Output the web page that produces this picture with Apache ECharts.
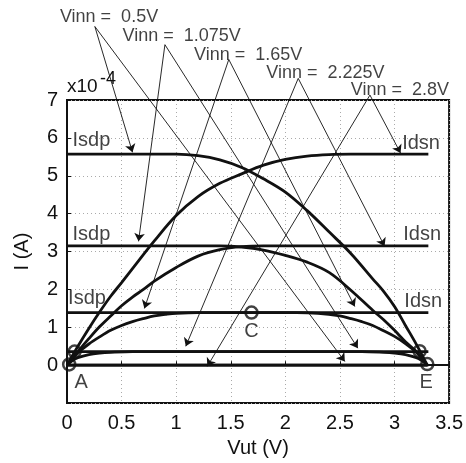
<!DOCTYPE html>
<html>
<head>
<meta charset="utf-8">
<script src="https://cdn.jsdelivr.net/npm/echarts@6/dist/echarts.min.js"></script>
<style>
  html, body { margin: 0; padding: 0; background: #fff; }
  #chart { width: 466px; height: 463px; }
</style>
</head>
<body>
<div id="chart"></div>
<script>
// Gate voltages of the two transistors
const vinnLabels = ['Vinn =  0.5V', 'Vinn =  1.075V', 'Vinn =  1.65V', 'Vinn =  2.225V', 'Vinn =  2.8V'];

// NMOS drain current Idsn (x1e-4 A) versus Vut (V), one curve per Vinn
const idsnVinn050 = [[0, 0], [3.31, 0]];
const idsnVinn1075 = [[0, 0], [0.05, 0.12], [0.1, 0.2], [0.2, 0.28], [0.3, 0.32], [0.4, 0.34], [0.6, 0.36], [3.31, 0.36]];
const idsnVinn165 = [[0, 0], [0.05, 0.17], [0.1, 0.33], [0.2, 0.56], [0.3, 0.75], [0.4, 0.92], [0.5, 1.05], [0.6, 1.15],
  [0.7, 1.23], [0.8, 1.3], [0.9, 1.34], [1.0, 1.37], [1.2, 1.39], [1.5, 1.39], [3.31, 1.39]];
const idsnVinn2225 = [[0, 0], [0.1, 0.36], [0.2, 0.7], [0.3, 1.02], [0.4, 1.3], [0.5, 1.57], [0.6, 1.8], [0.7, 2.0],
  [0.8, 2.22], [1.0, 2.58], [1.2, 2.88], [1.4, 3.05], [1.6, 3.13], [1.8, 3.15], [2.2, 3.15], [3.31, 3.15]];
const idsnVinn280 = [[0, 0], [0.1, 0.5], [0.2, 0.97], [0.3, 1.41], [0.4, 1.82], [0.5, 2.18], [0.6, 2.55], [0.8, 3.28],
  [1.0, 3.95], [1.2, 4.45], [1.4, 4.8], [1.6, 5.05], [1.8, 5.28], [2.0, 5.43], [2.2, 5.52], [2.4, 5.56], [2.6, 5.57], [3.31, 5.57]];

// PMOS source-drain current Isdp (x1e-4 A) versus Vut (V), one curve per Vinn
const isdpVinn050 = [[0, 5.57], [0.8, 5.57], [1.0, 5.57], [1.2, 5.53], [1.4, 5.42], [1.6, 5.22], [1.8, 4.92], [2.0, 4.57],
  [2.2, 4.08], [2.4, 3.52], [2.6, 2.95], [2.8, 2.28], [2.9, 1.95], [3.0, 1.55], [3.1, 1.05], [3.2, 0.55], [3.3, 0]];
const isdpVinn1075 = [[0, 3.15], [1.2, 3.15], [1.4, 3.15], [1.6, 3.12], [1.8, 3.04], [2.0, 2.9], [2.2, 2.72], [2.4, 2.45],
  [2.6, 1.98], [2.8, 1.45], [2.9, 1.2], [3.0, 0.92], [3.1, 0.62], [3.2, 0.36], [3.3, 0]];
const isdpVinn165 = [[0, 1.39], [1.8, 1.39], [2.1, 1.39], [2.3, 1.37], [2.5, 1.3], [2.6, 1.23], [2.7, 1.15], [2.8, 1.05],
  [2.9, 0.91], [3.0, 0.76], [3.1, 0.57], [3.2, 0.34], [3.25, 0.18], [3.3, 0]];
const isdpVinn2225 = [[0, 0.36], [2.5, 0.36], [2.7, 0.36], [2.9, 0.34], [3.0, 0.32], [3.1, 0.28], [3.2, 0.2], [3.25, 0.12], [3.3, 0]];
const isdpVinn280 = [[0, 0], [3.3, 0]];

// Operating points where Isdp = Idsn
const operatingPoints = [[0.02, 0.02], [0.07, 0.36], [1.69, 1.39], [3.23, 0.37], [3.3, 0.03]];
const pointNames = [['A', 0.13, -0.46], ['C', 1.69, 0.88], ['E', 3.29, -0.46]];

// Curve name tags
const isdpTags = [[0.05, 5.93], [0.05, 3.45], [0.01, 1.76]];
const idsnTags = [[3.07, 5.86], [3.08, 3.45], [3.09, 1.69]];

// Vinn caption positions and the curves each caption points to
const vinnTextPos = [[-0.065, 9.2], [0.508, 8.68], [1.163, 8.2], [1.826, 7.71], [2.6, 7.27]];
const arrowFrom = [[0.255, 8.94], [0.897, 8.46], [1.482, 8.07], [2.118, 7.57], [2.775, 7.13]];
const arrowToIsdp = [[0.6, 5.62], [0.655, 3.27], [0.709, 1.5], [1.088, 0.5], [1.285, -0.03]];
const arrowToIdsn = [[2.545, 0.1], [2.664, 0.45], [2.636, 1.55], [2.909, 3.14], [3.055, 5.6]];

const FONT = 'Liberation Sans, Arial, Helvetica, sans-serif';

const curveSets = [idsnVinn050, idsnVinn1075, idsnVinn165, idsnVinn2225, idsnVinn280,
  isdpVinn050, isdpVinn1075, isdpVinn165, isdpVinn2225, isdpVinn280];

const curveSeries = curveSets.map(function (pts) {
  return {
    type: 'line',
    data: pts,
    showSymbol: false,
    symbol: 'none',
    smooth: 0.35,
    lineStyle: { color: '#111', width: 2.8 },
    z: 3
  };
});

const arrowData = [];
for (let i = 0; i < arrowFrom.length; i++) {
  arrowData.push({ coords: [arrowFrom[i], arrowToIsdp[i]] });
  arrowData.push({ coords: [arrowFrom[i], arrowToIdsn[i]] });
}

function textSeries(points, names, opts) {
  return {
    type: 'scatter',
    symbolSize: 0,
    clip: false,
    silent: true,
    data: points.map(function (p, i) { return { name: names[i], value: p }; }),
    label: Object.assign({
      show: true,
      position: 'right',
      distance: 0,
      color: '#111',
      fontFamily: FONT,
      formatter: function (d) { return d.name; }
    }, opts),
    z: 6
  };
}

const chart = echarts.init(document.getElementById('chart'), null, { renderer: 'canvas' });
chart.setOption({
  animation: false,
  backgroundColor: '#fff',
  grid: { left: 67, right: 13, top: 100, bottom: 58, show: true, borderColor: '#111', borderWidth: 2 },
  graphic: [
    { type: 'text', left: 67, top: 77, style: { text: 'x10', font: '19px ' + FONT, fill: '#111' } },
    { type: 'text', left: 100, top: 70, style: { text: '-4', font: '18px ' + FONT, fill: '#111' } }
  ],
  xAxis: {
    type: 'value', min: 0, max: 3.5, interval: 0.5,
    name: 'Vut (V)', nameLocation: 'middle', nameGap: 33,
    nameTextStyle: { fontSize: 20, fontFamily: FONT, color: '#111' },
    axisLine: { show: true, lineStyle: { color: '#111', width: 2 } },
    axisTick: { show: true, inside: true, length: 4, lineStyle: { color: '#111' } },
    axisLabel: { fontSize: 20, fontFamily: FONT, color: '#111', margin: 10 },
    splitLine: { show: true, lineStyle: { color: '#aaa', width: 1, type: [1, 3] } }
  },
  yAxis: {
    type: 'value', min: -1, max: 7, interval: 1,
    name: 'I (A)', nameLocation: 'middle', nameGap: 35,
    nameTextStyle: { fontSize: 20, fontFamily: FONT, color: '#111' },
    axisLine: { show: true, lineStyle: { color: '#111', width: 2 } },
    axisTick: { show: true, inside: true, length: 4, lineStyle: { color: '#111' } },
    axisLabel: {
      fontSize: 20, fontFamily: FONT, color: '#111', margin: 9,
      formatter: function (v) { return v < 0 ? '' : String(v); }
    },
    splitLine: { show: true, lineStyle: { color: '#aaa', width: 1, type: [1, 3] } }
  },
  series: curveSeries.concat([
    {
      type: 'lines',
      coordinateSystem: 'cartesian2d',
      clip: false,
      silent: true,
      polyline: false,
      symbol: ['none', 'arrow'],
      symbolSize: 8,
      lineStyle: { color: '#111', width: 0.9, opacity: 1 },
      data: arrowData,
      z: 4
    },
    {
      type: 'scatter',
      data: operatingPoints,
      symbol: 'circle',
      symbolSize: 12,
      clip: false,
      itemStyle: { color: 'rgba(255,255,255,0)', borderColor: '#111', borderWidth: 2.5 },
      z: 5
    },
    textSeries(pointNames.map(function (p) { return [p[1], p[2]]; }), pointNames.map(function (p) { return p[0]; }),
      { position: 'inside', fontSize: 20 }),
    textSeries(isdpTags, ['Isdp', 'Isdp', 'Isdp'], { fontSize: 20 }),
    textSeries(idsnTags, ['Idsn', 'Idsn', 'Idsn'], { fontSize: 20 }),
    textSeries(vinnTextPos, vinnLabels, { fontSize: 18 })
  ])
});
</script>
</body>
</html>
